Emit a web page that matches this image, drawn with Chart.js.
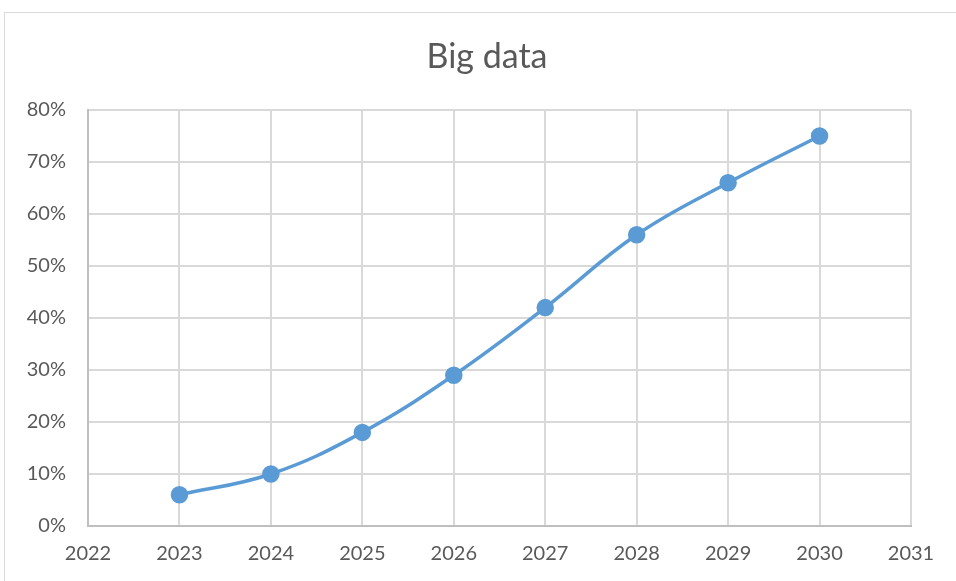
<!DOCTYPE html>
<html>
<head>
<meta charset="utf-8">
<script src="https://cdn.jsdelivr.net/npm/chart.js@4.4.1/dist/chart.umd.min.js"></script>
<style>
  html, body { margin: 0; padding: 0; background: #fff; overflow: hidden; }
  #frame { position: absolute; left: 4px; top: 12px; width: 1000px; height: 620px; border: 1px solid #d9d9d9; }
  #wrap { position: absolute; left: 0; top: 0; width: 956px; height: 581px; }
</style>
</head>
<body>
<div id="frame"></div>
<div id="wrap"><canvas id="grafico" width="956" height="581"></canvas></div>
<script>
// dados
const anos = [2023, 2024, 2025, 2026, 2027, 2028, 2029, 2030];
const valores = [6, 10, 18, 29, 42, 56, 66, 75];
const eixoX = { min: 2022, max: 2031, passo: 1 };
const eixoY = { min: 0, max: 80, passo: 10 };
const titulo = "Big data";

const corTexto = "#595959";
const fonte = "Lato, 'Open Sans', sans-serif";

// título centrado no quadro (não no canvas)
const pluginTitulo = {
  id: "titulo",
  afterDraw(chart) {
    const c = chart.ctx;
    c.save();
    c.fillStyle = corTexto;
    c.font = "34px " + fonte;
    c.textAlign = "center";
    c.textBaseline = "middle";
    c.fillText(titulo, 487, 57);
    c.restore();
  }
};

const ctx = document.getElementById("grafico").getContext("2d");
new Chart(ctx, {
  type: "line",
  data: {
    datasets: [{
      label: titulo,
      data: anos.map((a, i) => ({ x: a, y: valores[i] })),
      borderColor: "#5b9bd5",
      backgroundColor: "#5b9bd5",
      borderWidth: 3.5,
      pointRadius: 7,
      pointHoverRadius: 7,
      tension: 0.4,
      fill: false
    }]
  },
  options: {
    responsive: false,
    animation: false,
    layout: { padding: { left: 0, right: 45, top: 110, bottom: 0 } },
    plugins: {
      legend: { display: false },
      tooltip: { enabled: false },
      title: { display: false }
    },
    scales: {
      x: {
        type: "linear",
        min: eixoX.min,
        max: eixoX.max,
        afterFit: (s) => { s.height = 55; },
        ticks: {
          stepSize: eixoX.passo,
          color: corTexto,
          padding: 16,
          font: { family: fonte, size: 20 },
          callback: (v) => String(v)
        },
        grid: { color: "#d9d9d9", lineWidth: 2, drawTicks: false },
        border: { color: "#bfbfbf", width: 2 }
      },
      y: {
        min: eixoY.min,
        max: eixoY.max,
        afterFit: (s) => { s.width = 88; },
        ticks: {
          stepSize: eixoY.passo,
          color: corTexto,
          padding: 22,
          font: { family: fonte, size: 20 },
          callback: (v) => v + "%"
        },
        grid: { color: "#d9d9d9", lineWidth: 2, drawTicks: false },
        border: { color: "#bfbfbf", width: 2 }
      }
    }
  },
  plugins: [pluginTitulo]
});
</script>
</body>
</html>
